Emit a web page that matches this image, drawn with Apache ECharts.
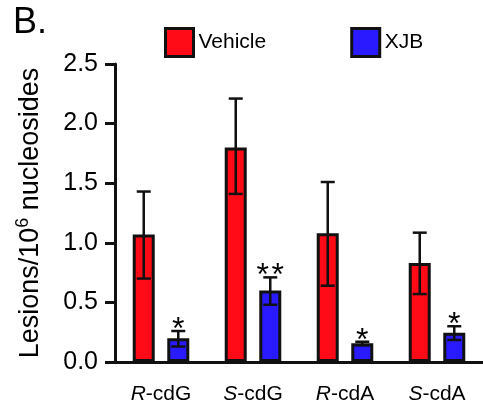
<!DOCTYPE html>
<html>
<head>
<meta charset="utf-8">
<script src="https://cdn.jsdelivr.net/npm/echarts@6/dist/echarts.min.js"></script>
<style>html,body{margin:0;padding:0;background:#fff}#c{width:483px;height:408px}</style>
</head>
<body>
<div id="c"></div>
<script>
const categories = ['R-cdG', 'S-cdG', 'R-cdA', 'S-cdA'];
const seriesNames = ['Vehicle', 'XJB'];
const vehicleMean = [1.07, 1.80, 1.08, 0.83];
const vehicleLow  = [0.70, 1.41, 0.64, 0.57];
const vehicleHigh = [1.43, 2.21, 1.51, 1.085];
const xjbMean = [0.20, 0.60, 0.157, 0.245];
const xjbLow  = [0.13, 0.48, 0.14, 0.185];
const xjbHigh = [0.26, 0.71, 0.17, 0.30];
const xjbSig  = ['*', '**', '*', '*'];
const yMin = 0, yMax = 2.5, yStep = 0.5;

const FONT = 'Liberation Sans, Arial, Helvetica, sans-serif';
const RED = '#FF0A16', BLUE = '#2A1AFF', EDGE = '#111111';
const BAR_W = 22, BAR_GAP = 0.57;
const OFF = (BAR_W + BAR_W * BAR_GAP) / 2;

function errSeries(low, high, sig, dir) {
  const data = categories.map((c, i) => [i, low[i], high[i], sig ? sig[i] : '']);
  return {
    type: 'custom',
    z: 5,
    silent: true,
    data: data,
    encode: { x: 0, y: [1, 2] },
    renderItem: function (params, api) {
      const i = api.value(0);
      const x = api.coord([i, 0])[0] + dir * OFF;
      const yl = api.coord([i, api.value(1)])[1];
      const yh = api.coord([i, api.value(2)])[1];
      const cap = 7;
      const ls = { stroke: EDGE, lineWidth: 2.5 };
      const children = [
        { type: 'line', shape: { x1: x, y1: yl, x2: x, y2: yh }, style: ls },
        { type: 'line', shape: { x1: x - cap, y1: yh, x2: x + cap, y2: yh }, style: ls },
        { type: 'line', shape: { x1: x - cap, y1: yl, x2: x + cap, y2: yl }, style: ls }
      ];
      const s = data[params.dataIndex][3];
      if (s) {
        children.push({
          type: 'text',
          style: { text: s.split('').join('\u200A'), x: x, y: yh - 1, align: 'center', verticalAlign: 'middle',
                   fontSize: 32, fontFamily: FONT, fill: '#000' }
        });
      }
      return { type: 'group', children: children };
    }
  };
}

const chart = echarts.init(document.getElementById('c'), null, { renderer: 'canvas' });
chart.setOption({
  animation: false,
  backgroundColor: '#fff',
  graphic: [{
    type: 'text', left: 13, top: 5,
    style: { text: 'B.', fontSize: 36, fontFamily: FONT, fill: '#000' }
  }],
  legend: {
    data: seriesNames,
    left: 159, top: 22,
    itemWidth: 28, itemHeight: 28, itemGap: 84,
    icon: 'rect',
    itemStyle: { borderColor: EDGE, borderWidth: 3 },
    textStyle: { fontSize: 21, fontFamily: FONT, color: '#000', padding: [2, 0, 0, 0] }
  },
  grid: { left: 115, right: 0, top: 64, bottom: 46, containLabel: false },
  xAxis: {
    type: 'category',
    data: categories,
    axisLine: { lineStyle: { color: EDGE, width: 3 } },
    axisTick: { show: false },
    axisLabel: {
      margin: 22, interval: 0,
      fontSize: 21, fontFamily: FONT, color: '#000',
      formatter: function (v) { return '{i|' + v.charAt(0) + '}' + v.slice(1); },
      rich: { i: { fontStyle: 'italic', fontSize: 21, fontFamily: FONT, color: '#000' } }
    }
  },
  yAxis: {
    type: 'value',
    min: yMin, max: yMax, interval: yStep,
    name: 'Lesions/10{sup|6} nucleosides',
    nameLocation: 'middle',
    nameGap: 68,
    nameRotate: 90,
    nameTextStyle: {
      fontSize: 27, fontFamily: FONT, color: '#000',
      rich: { sup: { fontSize: 18, fontFamily: FONT, color: '#000', padding: [0, 0, 15, 0] } }
    },
    axisLine: { show: true, lineStyle: { color: EDGE, width: 3 } },
    axisTick: { show: true, length: 10, lineStyle: { color: EDGE, width: 3 } },
    splitLine: { show: false },
    axisLabel: {
      margin: 17, fontSize: 25, fontFamily: FONT, color: '#000',
      formatter: function (v) { return v.toFixed(1); }
    }
  },
  series: [
    {
      name: seriesNames[0], type: 'bar', data: vehicleMean,
      barWidth: BAR_W, barGap: (BAR_GAP * 100) + '%',
      itemStyle: { color: RED, borderColor: EDGE, borderWidth: 3 }
    },
    {
      name: seriesNames[1], type: 'bar', data: xjbMean,
      barWidth: BAR_W, barGap: (BAR_GAP * 100) + '%',
      itemStyle: { color: BLUE, borderColor: EDGE, borderWidth: 3 }
    },
    errSeries(vehicleLow, vehicleHigh, null, -1),
    errSeries(xjbLow, xjbHigh, xjbSig, 1)
  ]
});
</script>
</body>
</html>
